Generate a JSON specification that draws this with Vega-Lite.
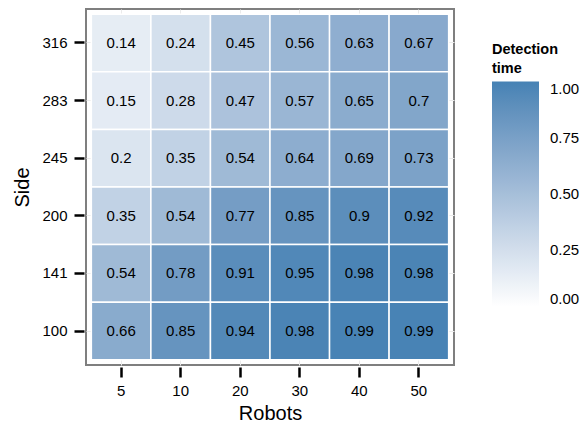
{
  "$schema": "https://vega.github.io/schema/vega-lite/v6.json",
  "width": 368,
  "height": 356,
  "autosize": {"type": "none"},
  "padding": {"left": 86, "top": 9, "right": 126, "bottom": 58},
  "background": "white",
  "config": {
    "font": "Liberation Sans",
    "view": {"stroke": "#7f7f7f", "strokeWidth": 2}
  },
  "data": {
    "values": [
      {"Side": "316", "Robots": "5", "time": 0.14},
      {"Side": "316", "Robots": "10", "time": 0.24},
      {"Side": "316", "Robots": "20", "time": 0.45},
      {"Side": "316", "Robots": "30", "time": 0.56},
      {"Side": "316", "Robots": "40", "time": 0.63},
      {"Side": "316", "Robots": "50", "time": 0.67},
      {"Side": "283", "Robots": "5", "time": 0.15},
      {"Side": "283", "Robots": "10", "time": 0.28},
      {"Side": "283", "Robots": "20", "time": 0.47},
      {"Side": "283", "Robots": "30", "time": 0.57},
      {"Side": "283", "Robots": "40", "time": 0.65},
      {"Side": "283", "Robots": "50", "time": 0.7},
      {"Side": "245", "Robots": "5", "time": 0.2},
      {"Side": "245", "Robots": "10", "time": 0.35},
      {"Side": "245", "Robots": "20", "time": 0.54},
      {"Side": "245", "Robots": "30", "time": 0.64},
      {"Side": "245", "Robots": "40", "time": 0.69},
      {"Side": "245", "Robots": "50", "time": 0.73},
      {"Side": "200", "Robots": "5", "time": 0.35},
      {"Side": "200", "Robots": "10", "time": 0.54},
      {"Side": "200", "Robots": "20", "time": 0.77},
      {"Side": "200", "Robots": "30", "time": 0.85},
      {"Side": "200", "Robots": "40", "time": 0.9},
      {"Side": "200", "Robots": "50", "time": 0.92},
      {"Side": "141", "Robots": "5", "time": 0.54},
      {"Side": "141", "Robots": "10", "time": 0.78},
      {"Side": "141", "Robots": "20", "time": 0.91},
      {"Side": "141", "Robots": "30", "time": 0.95},
      {"Side": "141", "Robots": "40", "time": 0.98},
      {"Side": "141", "Robots": "50", "time": 0.98},
      {"Side": "100", "Robots": "5", "time": 0.66},
      {"Side": "100", "Robots": "10", "time": 0.85},
      {"Side": "100", "Robots": "20", "time": 0.94},
      {"Side": "100", "Robots": "30", "time": 0.98},
      {"Side": "100", "Robots": "40", "time": 0.99},
      {"Side": "100", "Robots": "50", "time": 0.99}
    ]
  },
  "encoding": {
    "x": {
      "field": "Robots",
      "type": "ordinal",
      "sort": ["5", "10", "20", "30", "40", "50"],
      "scale": {"paddingInner": 0, "paddingOuter": 0.09},
      "axis": {
        "title": "Robots",
        "labelAngle": 0,
        "domain": false,
        "zindex": 0,
        "offset": 2,
        "tickSize": 10,
        "tickWidth": 2.5,
        "tickColor": "black",
        "bandPosition": 0.5,
        "labelPadding": 6,
        "labelFontSize": 15,
        "labelColor": "black",
        "titleFontSize": 20,
        "titleFontWeight": "normal",
        "titleColor": "black",
        "titlePadding": 5,
        "grid": true,
        "gridColor": "#ebebeb",
        "gridWidth": 1
      }
    },
    "y": {
      "field": "Side",
      "type": "ordinal",
      "sort": ["316", "283", "245", "200", "141", "100"],
      "scale": {"paddingInner": 0, "paddingOuter": 0.09},
      "axis": {
        "title": "Side",
        "domain": false,
        "zindex": 0,
        "offset": 2,
        "tickSize": 10,
        "tickWidth": 2.5,
        "tickColor": "black",
        "bandPosition": 0.5,
        "labelPadding": 7,
        "labelFontSize": 15,
        "labelColor": "black",
        "titleFontSize": 20,
        "titleFontWeight": "normal",
        "titleColor": "black",
        "titlePadding": 9,
        "grid": true,
        "gridColor": "#ebebeb",
        "gridWidth": 1
      }
    }
  },
  "layer": [
    {
      "mark": {"type": "rect", "stroke": "white", "strokeWidth": 1.5},
      "encoding": {
        "color": {
          "field": "time",
          "type": "quantitative",
          "scale": {"domain": [0, 1], "range": ["#ffffff", "#4682b4"], "interpolate": "lab"},
          "legend": {
            "title": ["Detection", "time"],
            "orient": "none",
            "legendX": 406,
            "legendY": 34,
            "direction": "vertical",
            "gradientLength": 225,
            "gradientThickness": 47,
            "gradientStrokeWidth": 0,
            "values": [0, 0.25, 0.5, 0.75, 1],
            "format": ".2f",
            "labelFontSize": 15,
            "labelColor": "black",
            "labelOffset": 11,
            "titleFontSize": 14.5,
            "titleFontWeight": "bold",
            "titleColor": "black",
            "titleLineHeight": 19,
            "titlePadding": 5
          }
        }
      }
    },
    {
      "mark": {"type": "text", "fontSize": 15, "color": "black"},
      "encoding": {"text": {"field": "time", "type": "quantitative"}}
    }
  ]
}
